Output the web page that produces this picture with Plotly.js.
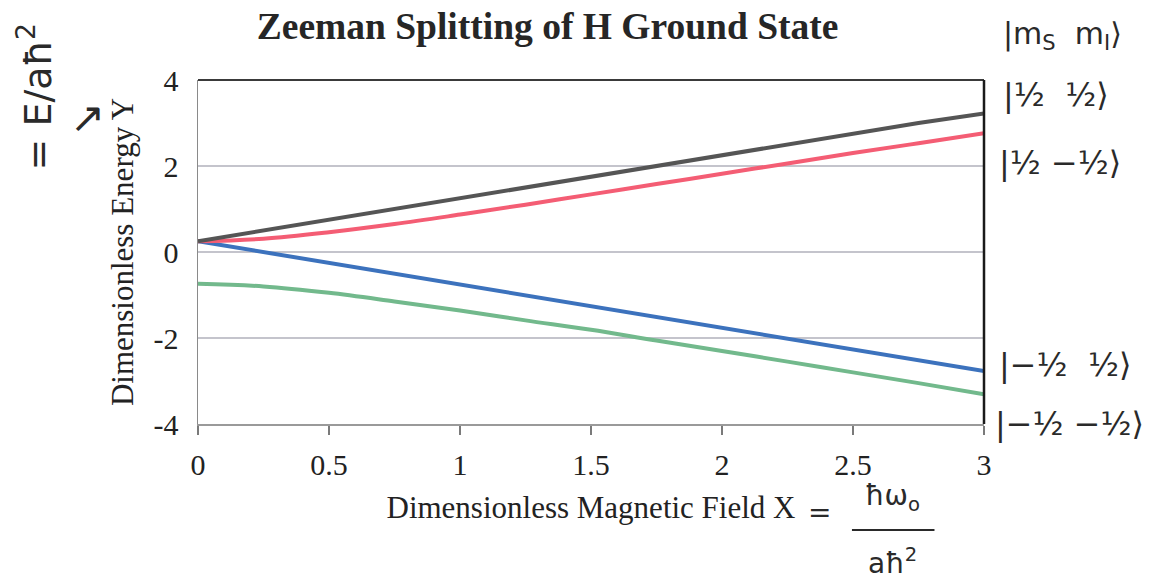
<!DOCTYPE html>
<html>
<head>
<meta charset="utf-8">
<script src="https://cdn.plot.ly/plotly-3.0.1.min.js"></script>
<style>
html,body{margin:0;padding:0;background:#fff;}
#chart{width:1175px;height:585px;}
</style>
</head>
<body>
<div id="chart"></div>
<script>
// Dimensionless magnetic field X
const fieldX = [0, 0.25, 0.5, 0.75, 1, 1.25, 1.5, 1.75, 2, 2.25, 2.5, 2.75, 3];
// |1/2 1/2>  (black)
const energyUpUp = [0.25, 0.50, 0.75, 1.00, 1.25, 1.50, 1.75, 2.00, 2.25, 2.50, 2.75, 3.00, 3.22];
// |1/2 -1/2> (red)
const energyUpDown = [0.25, 0.31, 0.46, 0.65, 0.87, 1.10, 1.34, 1.58, 1.82, 2.06, 2.30, 2.53, 2.76];
// |-1/2 1/2> (blue)
const energyDownUp = [0.25, 0.00, -0.25, -0.50, -0.75, -1.00, -1.25, -1.50, -1.75, -2.00, -2.25, -2.50, -2.77];
// |-1/2 -1/2> (green)
const energyDownDown = [-0.74, -0.80, -0.95, -1.15, -1.36, -1.59, -1.81, -2.06, -2.30, -2.55, -2.80, -3.05, -3.31];

const xTickVals = [0, 0.5, 1, 1.5, 2, 2.5, 3];
const xTickText = ["0", "0.5", "1", "1.5", "2", "2.5", "3"];
const yTickVals = [-4, -2, 0, 2, 4];
const yTickText = ["-4", "-2", "0", "2", "4"];

const serif = "Liberation Serif, Times New Roman, serif";
const hand = "DejaVu Sans, sans-serif";
const ink = "#2a2a2a";

const traces = [
  {x: fieldX, y: energyDownDown, mode: "lines", line: {color: "#72b98c", width: 4, shape: "spline"}},
  {x: fieldX, y: energyDownUp, mode: "lines", line: {color: "#3c72bd", width: 4}},
  {x: fieldX, y: energyUpDown, mode: "lines", line: {color: "#f45d74", width: 4, shape: "spline"}},
  {x: fieldX, y: energyUpUp, mode: "lines", line: {color: "#555555", width: 4}}
];

const ann = (text, x, y, size, xanchor, extra) => Object.assign({
  text: text, xref: "paper", yref: "paper", x: x, y: y, showarrow: false,
  xanchor: xanchor || "left", yanchor: "middle",
  font: {family: hand, size: size, color: ink}
}, extra || {});

const layout = {
  width: 1175, height: 585,
  margin: {l: 198, r: 191, t: 80, b: 161},
  paper_bgcolor: "#ffffff", plot_bgcolor: "#ffffff",
  showlegend: false,
  title: {text: "<b>Zeeman Splitting of H Ground State</b>", x: 0.466, xanchor: "center", y: 0.955, yanchor: "middle",
          font: {family: serif, size: 37.5, color: "#262626"}},
  xaxis: {
    range: [0, 3], tickvals: xTickVals, ticktext: xTickText,
    showgrid: false, zeroline: false, showline: true, linecolor: "#9a9a9a", linewidth: 1.5,
    ticks: "outside", ticklen: 9, tickcolor: "#7a7a7a", tickwidth: 1.5,
    ticklabelstandoff: 4,
    tickfont: {family: serif, size: 30, color: "#222"},
    title: {text: "Dimensionless Magnetic Field X", standoff: 17, font: {family: serif, size: 31, color: "#222"}}
  },
  yaxis: {
    range: [-4, 4], tickvals: yTickVals, ticktext: yTickText,
    showgrid: true, gridcolor: "#c4c4cc", gridwidth: 1.2, zeroline: false,
    showline: true, linecolor: "#8a8a8a", linewidth: 1.5, ticks: "", ticklen: 0,
    ticklabelstandoff: 12,
    tickfont: {family: serif, size: 30, color: "#222"},
    title: {text: "Dimensionless Energy Y", standoff: 10, font: {family: serif, size: 31, color: "#222"}}
  },
  shapes: [
    {type: "line", xref: "paper", yref: "paper", x0: 0, x1: 1, y0: 1, y1: 1, line: {color: "#3a3a3a", width: 1.8}},
    {type: "line", xref: "paper", yref: "paper", x0: 1, x1: 1, y0: 0, y1: 1, line: {color: "#1a1a1a", width: 2.5}},
    {type: "line", xref: "paper", yref: "paper", x0: 0.832, x1: 0.937, y0: -0.308, y1: -0.308, line: {color: ink, width: 2}}
  ],
  annotations: [
    ann("|m<sub>S</sub>  m<sub>I</sub>⟩", 1.022, 1.13, 30),
    ann("|½  ½⟩", 1.022, 0.956, 32),
    ann("|½ −½⟩", 1.017, 0.759, 32),
    ann("|−½  ½⟩", 1.017, 0.172, 32),
    ann("|−½ −½⟩", 1.012, 0.0, 32),
    ann("= E/aħ<sup>2</sup>", -0.207, 0.95, 38, "center", {textangle: -90}),
    ann("↗", -0.14, 0.89, 42, "center"),
    ann("=", 0.791, -0.256, 28, "center"),
    ann("ħω<sub>o</sub>", 0.884, -0.215, 28, "center"),
    ann("aħ<sup>2</sup>", 0.884, -0.40, 28, "center")
  ]
};

Plotly.newPlot("chart", traces, layout, {displayModeBar: false, staticPlot: true});
</script>
</body>
</html>
